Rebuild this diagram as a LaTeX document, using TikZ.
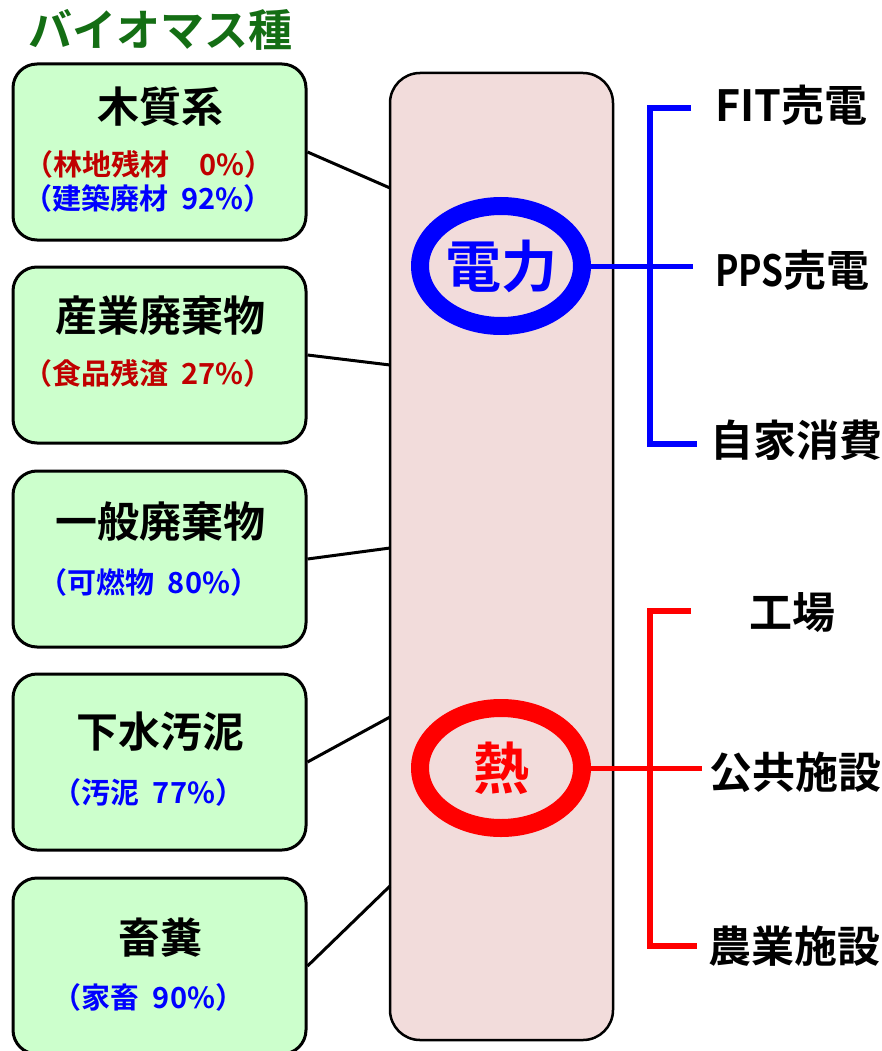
\documentclass[tikz,border=0pt]{standalone}
\usepackage{graphicx}
\usepackage{fontspec}
\setmainfont{Noto Sans CJK JP}[BoldFont={Noto Sans CJK JP Bold}]
\usetikzlibrary{shapes.geometric}
\definecolor{titlegreen}{RGB}{20,110,20}
\definecolor{boxgreen}{RGB}{204,255,204}
\definecolor{hubpink}{RGB}{242,220,219}
\definecolor{subred}{RGB}{192,0,0}
\definecolor{subblue}{RGB}{0,0,255}
\definecolor{heatred}{RGB}{255,0,0}
\tikzset{
  srcbox/.style={draw=black, line width=3pt, fill=boxgreen, rounded corners=24pt, minimum width=293pt, minimum height=176pt, inner sep=0pt},
  hubbox/.style={draw=black, line width=2.5pt, fill=hubpink, rounded corners=30pt, minimum width=223pt, minimum height=967pt, inner sep=0pt},
  bigtxt/.style={font=\fontsize{42}{48}\selectfont\bfseries, inner sep=0pt},
  subtxt/.style={font=\fontsize{29}{34}\selectfont\bfseries, inner sep=0pt},
  outtxt/.style={font=\fontsize{43}{50}\selectfont\bfseries, inner sep=0pt, anchor=west},
  ring/.style={ellipse, line width=18pt, fill=hubpink, minimum width=162pt, minimum height=120pt, inner sep=0pt, font=\fontsize{56}{62}\selectfont\bfseries},
  link/.style={draw=black, line width=3pt},
  bracket/.style={line width=6pt}
}
\newcommand{\gp}{\hspace{0.45em}}
\begin{document}
\begin{tikzpicture}[x=1pt,y=-1pt]
\useasboundingbox[fill=white] (0,0) rectangle (881,1051);
% title
\node[font=\fontsize{44}{50}\selectfont\bfseries, text=titlegreen, inner sep=0pt] (title) at (160,30) {バイオマス種};
% hub
\node[hubbox] (hub) at (501.5,556.5) {};
% source boxes
\node[srcbox] (s1) at (159.5,152) {};
\node[srcbox] (s2) at (159.5,355) {};
\node[srcbox] (s3) at (159.5,559) {};
\node[srcbox] (s4) at (159.5,762) {};
\node[srcbox] (s5) at (159.5,966) {};
% source texts
\node[bigtxt] (t1) at (160,107) {木質系};
\node[subtxt, text=subred] (u1a) at (149,164) {（林地残材\gp\phantom{9}0\%）};
\node[subtxt, text=subblue] (u1b) at (148,198) {（建築廃材\gp 92\%）};
\node[bigtxt] (t2) at (160,316) {産業廃棄物};
\node[subtxt, text=subred] (u2) at (148,373) {（食品残渣\gp 27\%）};
\node[bigtxt] (t3) at (160,522) {一般廃棄物};
\node[subtxt, text=subblue] (u3) at (149,582) {（可燃物\gp 80\%）};
\node[bigtxt] (t4) at (160,732) {下水汚泥};
\node[subtxt, text=subblue] (u4) at (148.5,792) {（汚泥\gp 77\%）};
\node[bigtxt] (t5) at (160,938) {畜糞};
\node[subtxt, text=subblue] (u5) at (148.5,997) {（家畜\gp 90\%）};
% hub entry points
\coordinate (h1) at (390,188);
\coordinate (h2) at (390,365);
\coordinate (h3) at (390,548);
\coordinate (h4) at (390,717);
\coordinate (h5) at (390,886);
\draw[link] (s1.east) -- (h1);
\draw[link] (s2.east) -- (h2);
\draw[link] (s3.east) -- (h3);
\draw[link] (s4.east) -- (h4);
\draw[link] (s5.east) -- (h5);
% electricity
\node[ring, draw=subblue, text=subblue] (elec) at (501,266) {電力};
\node[outtxt] (fit) at (715,105) {FIT売電};
\node[outtxt] (pps) at (715,270) {\scalebox{0.82}[1]{PPS}売電};
\node[outtxt] (self) at (710,440) {自家消費};
\coordinate (etop) at (691,108);
\coordinate (emid) at (693,266);
\coordinate (ebot) at (697,444);
\draw[bracket, draw=subblue, line width=5pt] (elec.east) -- (emid);
\draw[bracket, draw=subblue] (etop) -- ++(-41,0) |- (ebot);
% heat
\node[ring, draw=heatred, text=heatred] (heat) at (501,768) {熱};
\node[font=\fontsize{43}{50}\selectfont\bfseries, inner sep=0pt] (fac) at (792,613) {工場};
\node[outtxt] (pub) at (709,772) {公共施設};
\node[outtxt] (agr) at (708,946) {農業施設};
\coordinate (htop) at (691,611);
\coordinate (hmid) at (702,768);
\coordinate (hbot) at (697,946);
\draw[bracket, draw=heatred, line width=5pt] (heat.east) -- (hmid);
\draw[bracket, draw=heatred] (htop) -- ++(-41,0) |- (hbot);
\end{tikzpicture}
\end{document}
